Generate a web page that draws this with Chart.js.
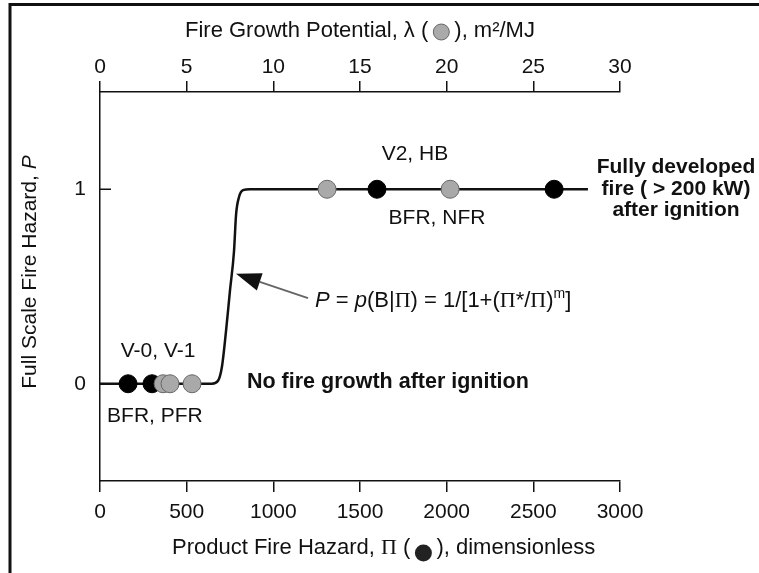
<!DOCTYPE html>
<html>
<head>
<meta charset="utf-8">
<script src="https://cdn.jsdelivr.net/npm/chart.js@4"></script>
<style>
  body { margin: 0; background: #fff; }
  #wrap { width: 759px; height: 573px; }
</style>
</head>
<body>
<div id="wrap"><canvas id="fireChart" width="759" height="573"></canvas></div>
<script>
// Product fire hazard (black dots), plotted on the bottom axis
const piBlack = [162, 300, 1598, 2620];
const pBlack = [0, 0, 1, 1];

// Fire growth potential (gray dots), plotted on the top axis
const lambdaGray = [3.64, 4.04, 5.31, 13.1, 20.2];
const pGray = [0, 0, 0, 1, 1];

// Probability curve
const curvePi = [0, 646, 681, 704, 727, 750, 773, 785, 802, 825, 865, 1000, 2815];
const curveP = [0, 0, 0.015, 0.09, 0.27, 0.48, 0.68, 0.87, 0.96, 0.995, 1, 1, 1];

// Tick labels
const piTicks = [0, 500, 1000, 1500, 2000, 2500, 3000];
const lambdaTicks = [0, 5, 10, 15, 20, 25, 30];
const pTicks = [0, 1];

const SANS = '"Liberation Sans", Arial, Helvetica, sans-serif';
const SERIF = '"Liberation Serif", "Times New Roman", serif';
const f = (size, style) => (style ? style + ' ' : '') + size + 'px ' + SANS;

const toXY = (xs, ys) => xs.map((x, i) => ({x: x, y: ys[i]}));

// draw a row of differently styled text pieces, left aligned
function drawRuns(ctx, runs, x, y) {
  let cx = x;
  runs.forEach(r => {
    ctx.font = r.font;
    ctx.fillText(r.t, cx, y + (r.dy || 0));
    cx += ctx.measureText(r.t).width;
  });
  return cx;
}
function runsWidth(ctx, runs) {
  let w = 0;
  runs.forEach(r => { ctx.font = r.font; w += ctx.measureText(r.t).width; });
  return w;
}

const decorations = {
  id: 'decorations',
  afterDraw(chart) {
    const ctx = chart.ctx;
    const sx = chart.scales.x, sy = chart.scales.y;
    const px = v => sx.getPixelForValue(v);
    const py = v => sy.getPixelForValue(v);
    ctx.save();
    ctx.fillStyle = '#111';
    ctx.strokeStyle = '#111';

    // outer frame
    ctx.lineWidth = 3;
    ctx.beginPath();
    ctx.moveTo(10, 580);
    ctx.lineTo(10, 4.5);
    ctx.lineTo(770, 4.5);
    ctx.stroke();

    // inward y ticks
    ctx.lineWidth = 1.5;
    pTicks.forEach(v => {
      ctx.beginPath();
      ctx.moveTo(sx.left, py(v));
      ctx.lineTo(sx.left + 11, py(v));
      ctx.stroke();
    });

    ctx.textBaseline = 'middle';
    ctx.textAlign = 'left';

    // top axis title with gray symbol
    let end = drawRuns(ctx, [{t: 'Fire Growth Potential, \u03bb (', font: f(22)}], 185, 31);
    ctx.beginPath();
    ctx.arc(end + 13, 32, 8, 0, Math.PI * 2);
    ctx.fillStyle = '#aaa';
    ctx.fill();
    ctx.strokeStyle = '#666';
    ctx.lineWidth = 1;
    ctx.stroke();
    ctx.fillStyle = '#111';
    drawRuns(ctx, [{t: '), m\u00b2/MJ', font: f(22)}], end + 26, 31);

    // bottom axis title with black symbol
    end = drawRuns(ctx, [{t: 'Product Fire Hazard, ', font: f(22)},
                         {t: '\u03a0', font: '22px ' + SERIF},
                         {t: ' (', font: f(22)}], 172, 548);
    ctx.beginPath();
    ctx.arc(end + 13, 553, 8.5, 0, Math.PI * 2);
    ctx.fillStyle = '#222';
    ctx.fill();
    ctx.fillStyle = '#111';
    drawRuns(ctx, [{t: '), dimensionless', font: f(22)}], end + 26, 548);

    // y axis title
    const yRuns = [{t: 'Full Scale Fire Hazard, ', font: f(21)},
                   {t: 'P', font: f(21, 'italic')}];
    ctx.save();
    ctx.translate(30, 272);
    ctx.rotate(-Math.PI / 2);
    drawRuns(ctx, yRuns, -runsWidth(ctx, yRuns) / 2, 0);
    ctx.restore();

    // labels near the points
    ctx.textAlign = 'center';
    ctx.font = f(21);
    ctx.fillText('V2, HB', px(1817), py(1.18));
    ctx.fillText('BFR, NFR', px(1944), py(0.85));
    ctx.fillText('V-0, V-1', px(335), py(0.166));
    ctx.fillText('BFR, PFR', px(317), py(-0.166));

    ctx.font = f(21, 'bold');
    ctx.fillText('Fully developed', px(3323), py(1.114));
    ctx.fillText('fire ( > 200 kW)', px(3323), py(1.0));
    ctx.fillText('after ignition', px(3323), py(0.891));

    ctx.textAlign = 'left';
    ctx.font = f(21.5, 'bold');
    ctx.fillText('No fire growth after ignition', px(848), py(0.01));

    // formula
    const fn = f(22), fi = f(22, 'italic'), fs = '22px ' + SERIF;
    drawRuns(ctx, [
      {t: 'P', font: fi}, {t: ' = ', font: fn}, {t: 'p', font: fi},
      {t: '(B|', font: fn}, {t: '\u03a0', font: fs}, {t: ') = 1/[1+(', font: fn},
      {t: '\u03a0', font: fs}, {t: '*/', font: fn}, {t: '\u03a0', font: fs},
      {t: ')', font: fn}, {t: 'm', font: f(14), dy: -7}, {t: ']', font: fn}
    ], px(1240), py(0.425));

    // arrow pointing at the curve
    const tx = px(785), ty = py(0.565);
    const ax = px(1200), ay = py(0.44);
    const ang = Math.atan2(ty - ay, tx - ax);
    const hl = 25, hw = 9;
    const bx = tx - hl * Math.cos(ang), by = ty - hl * Math.sin(ang);
    ctx.lineWidth = 2;
    ctx.beginPath();
    ctx.moveTo(ax, ay);
    ctx.lineTo(bx, by);
    ctx.stroke();
    ctx.beginPath();
    ctx.moveTo(tx, ty);
    ctx.lineTo(bx + hw * Math.sin(ang), by - hw * Math.cos(ang));
    ctx.lineTo(bx - hw * Math.sin(ang), by + hw * Math.cos(ang));
    ctx.closePath();
    ctx.fill();

    ctx.restore();
  }
};

const axisLine = {color: '#111', width: 1.5};
const tickFont = {family: SANS, size: 21};
const plain = v => String(v);

new Chart(document.getElementById('fireChart'), {
  type: 'scatter',
  data: {
    datasets: [
      {
        label: 'P curve',
        data: toXY(curvePi, curveP),
        xAxisID: 'x',
        showLine: true,
        borderColor: '#111',
        borderWidth: 2.5,
        pointRadius: 0,
        cubicInterpolationMode: 'monotone',
        order: 3
      },
      {
        label: 'Pi',
        data: toXY(piBlack, pBlack),
        xAxisID: 'x',
        backgroundColor: '#000',
        borderColor: '#000',
        pointRadius: 9,
        order: 2
      },
      {
        label: 'lambda',
        data: toXY(lambdaGray, pGray),
        xAxisID: 'x2',
        backgroundColor: '#a9a9a9',
        borderColor: '#666',
        borderWidth: 1,
        pointRadius: 9,
        order: 1
      }
    ]
  },
  options: {
    responsive: false,
    animation: false,
    devicePixelRatio: 1,
    layout: {padding: {left: 0, right: 139, top: 0, bottom: 0}},
    plugins: {legend: {display: false}, tooltip: {enabled: false}},
    scales: {
      x: {
        type: 'linear', position: 'bottom', min: 0, max: 3000,
        afterBuildTicks(s) { s.ticks = piTicks.map(v => ({value: v})); },
        afterFit(s) { s.height = 92; },
        ticks: {color: '#111', font: tickFont, padding: 8, maxRotation: 0, callback: plain},
        grid: {drawOnChartArea: false, tickLength: 11, color: '#111', lineWidth: 1.5},
        border: axisLine
      },
      x2: {
        type: 'linear', position: 'top', min: 0, max: 30,
        afterBuildTicks(s) { s.ticks = lambdaTicks.map(v => ({value: v})); },
        afterFit(s) { s.height = 92; },
        ticks: {color: '#111', font: tickFont, padding: 1, maxRotation: 0, callback: plain},
        grid: {drawOnChartArea: false, tickLength: 11, color: '#111', lineWidth: 1.5},
        border: axisLine
      },
      y: {
        type: 'linear', min: -0.5, max: 1.5,
        afterBuildTicks(s) { s.ticks = pTicks.map(v => ({value: v})); },
        afterFit(s) { s.width = 100; },
        ticks: {color: '#111', font: tickFont, padding: 14, callback: plain},
        grid: {drawOnChartArea: false, drawTicks: false},
        border: axisLine
      }
    }
  },
  plugins: [decorations]
});
</script>
</body>
</html>
